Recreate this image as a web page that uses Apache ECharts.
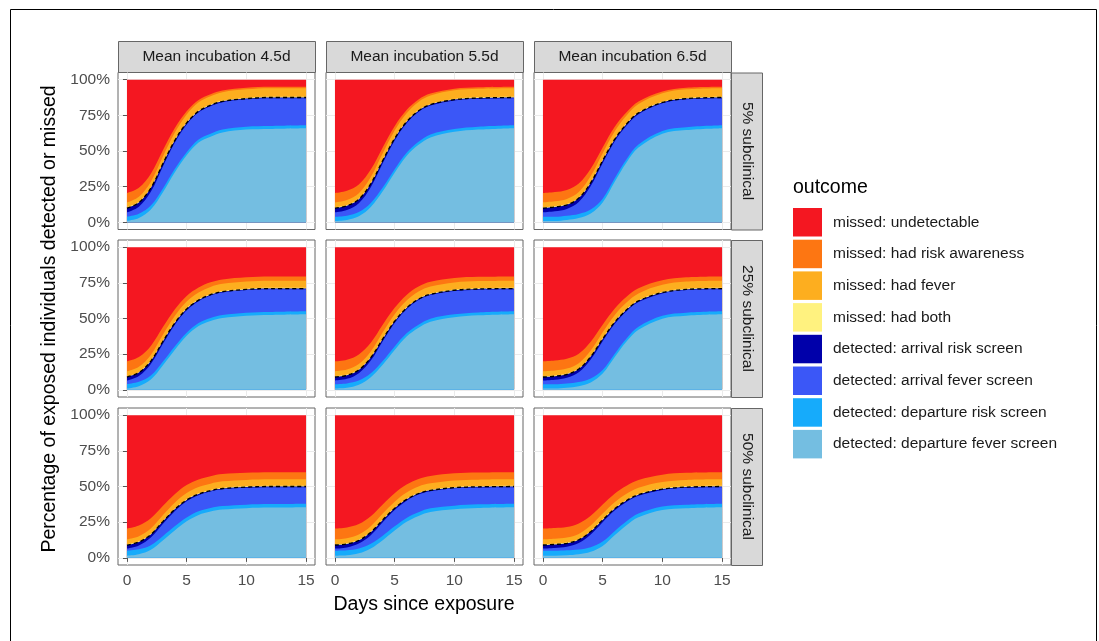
<!DOCTYPE html>
<html>
<head>
<meta charset="utf-8">
<script src="https://cdn.jsdelivr.net/npm/echarts@6/dist/echarts.min.js"></script>
<style>
  html, body { margin: 0; padding: 0; background: #fff; }
  #chart { width: 1099px; height: 641px; }
</style>
</head>
<body>
<div id="chart"></div>
<script>
// facet labels
const incubations = ['Mean incubation 4.5d', 'Mean incubation 5.5d', 'Mean incubation 6.5d'];
const subclinical = ['5% subclinical', '25% subclinical', '50% subclinical'];
const xTicks = [0, 5, 10, 15];
const yTicks = [0, 25, 50, 75, 100];
const days = [0, 1, 2, 3, 4, 5, 6, 7, 8, 10, 12, 15];

const outcomes = [
  'missed: undetectable', 'missed: had risk awareness', 'missed: had fever', 'missed: had both',
  'detected: arrival risk screen', 'detected: arrival fever screen',
  'detected: departure risk screen', 'detected: departure fever screen'
];

// one row per panel: 5% (4.5, 5.5, 6.5), 25% (...), 50% (...)
const departureFever = [
  [1, 3, 9, 21, 35, 47, 56, 60, 63, 65, 65.5, 66],
  [1, 1.7, 4.3, 10.8, 21.8, 34.8, 46.5, 54.3, 59.5, 63.4, 65, 66],
  [1, 1, 1.7, 3, 6.2, 14, 28.3, 42, 52.4, 62.1, 64.7, 66],
  [1, 2.6, 7.2, 17.1, 28, 37.9, 44.7, 48.3, 50.4, 52, 52.5, 53],
  [1, 1.5, 3.6, 8.8, 17.6, 28, 37.4, 43.6, 47.8, 50.9, 52.2, 53],
  [1, 1, 1.5, 2.6, 5.2, 11.4, 22.8, 33.8, 42.1, 49.9, 52, 53],
  [1.5, 2.5, 5.6, 12.1, 19.2, 25.6, 30.1, 32.4, 33.8, 34.8, 35.2, 35.5],
  [1.5, 1.8, 3.2, 6.6, 12.4, 19.2, 25.3, 29.4, 32.1, 34.1, 35, 35.5],
  [1.5, 1.5, 1.8, 2.5, 4.2, 8.3, 15.8, 22.9, 28.4, 33.5, 34.8, 35.5]
];
const departureRisk = [
  [3, 3, 2.8, 2.6, 2.4, 2.2, 2.1, 2.1, 2, 2, 2, 2],
  [3, 3, 2.9, 2.8, 2.6, 2.4, 2.2, 2.1, 2.1, 2, 2, 2],
  [3, 3, 3, 2.9, 2.8, 2.6, 2.4, 2.2, 2.1, 2, 2, 2],
  [3, 3, 2.8, 2.6, 2.4, 2.2, 2.1, 2.1, 2, 2, 2, 2],
  [3, 3, 2.9, 2.8, 2.6, 2.4, 2.2, 2.1, 2.1, 2, 2, 2],
  [3, 3, 3, 2.9, 2.8, 2.6, 2.4, 2.2, 2.1, 2, 2, 2],
  [3.5, 3.5, 3.3, 3.1, 2.9, 2.7, 2.6, 2.6, 2.5, 2.5, 2.5, 2.5],
  [3.5, 3.5, 3.4, 3.3, 3.1, 2.9, 2.7, 2.6, 2.6, 2.5, 2.5, 2.5],
  [3.5, 3.5, 3.5, 3.4, 3.3, 3.1, 2.9, 2.7, 2.6, 2.5, 2.5, 2.5]
];
const arrivalFever = [
  [3, 5, 9.6, 15.4, 18.4, 19.4, 19, 19.3, 19.2, 19.2, 19.5, 19],
  [3, 3.9, 6.2, 11, 17, 20.2, 20.8, 21, 20.2, 20, 19.6, 19],
  [3, 3.8, 4.7, 8.3, 16.4, 24.8, 25.9, 23.6, 21.3, 19.3, 19.5, 19],
  [2.5, 4.1, 8.1, 12.4, 15.1, 15.6, 15.3, 15.7, 15.8, 15.9, 16, 15.5],
  [2.5, 3.2, 5.2, 8.9, 13.9, 16.5, 16.9, 17.2, 16.5, 16.4, 16, 15.5],
  [2.5, 3.1, 4, 6.8, 13.3, 20.1, 20.9, 19.1, 17.3, 15.7, 15.9, 15.5],
  [1.5, 2.7, 5.4, 8.5, 10.6, 11.3, 11.2, 11.5, 11.7, 11.8, 11.8, 11.5],
  [1.5, 2, 3.4, 6, 9.5, 11.5, 12.1, 12.4, 12, 12.1, 11.8, 11.5],
  [1.5, 1.9, 2.5, 4.5, 8.9, 13.6, 14.4, 13.6, 12.5, 11.6, 11.8, 11.5]
];
const arrivalRisk = [
  [3, 2.9, 2.6, 2, 1.5, 1.1, 0.8, 0.7, 0.6, 0.5, 0.5, 0.5],
  [3, 3, 2.8, 2.5, 1.9, 1.4, 1, 0.8, 0.7, 0.6, 0.5, 0.5],
  [3, 3, 2.9, 2.8, 2.4, 1.9, 1.5, 1.1, 0.9, 0.6, 0.5, 0.5],
  [2.5, 2.4, 2.1, 1.7, 1.3, 1, 0.8, 0.6, 0.6, 0.5, 0.5, 0.5],
  [2.5, 2.5, 2.3, 2.1, 1.6, 1.2, 0.9, 0.7, 0.6, 0.5, 0.5, 0.5],
  [2.5, 2.5, 2.4, 2.3, 2, 1.6, 1.3, 1, 0.8, 0.6, 0.5, 0.5],
  [2.5, 2.4, 2.1, 1.7, 1.3, 1, 0.8, 0.6, 0.6, 0.5, 0.5, 0.5],
  [2.5, 2.5, 2.3, 2.1, 1.6, 1.2, 0.9, 0.7, 0.6, 0.5, 0.5, 0.5],
  [2.5, 2.5, 2.4, 2.3, 2, 1.6, 1.3, 1, 0.8, 0.6, 0.5, 0.5]
];
const hadBoth = [
  [0.5, 0.5, 0.5, 0.5, 0.5, 0.5, 0.5, 0.5, 0.5, 0.5, 0.5, 0.5],
  [0.5, 0.5, 0.5, 0.5, 0.5, 0.5, 0.5, 0.5, 0.5, 0.5, 0.5, 0.5],
  [0.5, 0.5, 0.5, 0.5, 0.5, 0.5, 0.5, 0.5, 0.5, 0.5, 0.5, 0.5],
  [0.5, 0.5, 0.5, 0.5, 0.5, 0.5, 0.5, 0.5, 0.5, 0.5, 0.5, 0.5],
  [0.5, 0.5, 0.5, 0.5, 0.5, 0.5, 0.5, 0.5, 0.5, 0.5, 0.5, 0.5],
  [0.5, 0.5, 0.5, 0.5, 0.5, 0.5, 0.5, 0.5, 0.5, 0.5, 0.5, 0.5],
  [0.5, 0.5, 0.5, 0.5, 0.5, 0.5, 0.5, 0.5, 0.5, 0.5, 0.5, 0.5],
  [0.5, 0.5, 0.5, 0.5, 0.5, 0.5, 0.5, 0.5, 0.5, 0.5, 0.5, 0.5],
  [0.5, 0.5, 0.5, 0.5, 0.5, 0.5, 0.5, 0.5, 0.5, 0.5, 0.5, 0.5]
];
const hadFever = [
  [3.5, 3.6, 4, 4.5, 5, 5.4, 5.7, 5.8, 5.9, 6, 6, 6],
  [3.5, 3.6, 3.7, 4.1, 4.6, 5.1, 5.5, 5.7, 5.8, 6, 6, 6],
  [3.5, 3.5, 3.6, 3.7, 4.1, 4.6, 5.1, 5.4, 5.7, 5.9, 6, 6],
  [3.5, 3.6, 3.8, 4.1, 4.4, 4.7, 4.8, 4.9, 5, 5, 5, 5],
  [3.5, 3.5, 3.6, 3.8, 4.1, 4.4, 4.7, 4.8, 4.9, 5, 5, 5],
  [3.5, 3.5, 3.5, 3.6, 3.8, 4.1, 4.4, 4.6, 4.8, 4.9, 5, 5],
  [3.5, 3.6, 3.7, 3.9, 4.1, 4.3, 4.4, 4.4, 4.5, 4.5, 4.5, 4.5],
  [3.5, 3.5, 3.6, 3.7, 3.9, 4.1, 4.3, 4.4, 4.4, 4.5, 4.5, 4.5],
  [3.5, 3.5, 3.5, 3.6, 3.7, 3.9, 4.1, 4.3, 4.4, 4.5, 4.5, 4.5]
];
const riskAwareness = [
  [6.5, 6.2, 5.5, 4.3, 3.1, 2.3, 1.7, 1.4, 1.2, 1.1, 1, 1],
  [6.5, 6.4, 6.1, 5.3, 4.1, 3, 2.2, 1.7, 1.4, 1.1, 1, 1],
  [6.5, 6.4, 6.3, 6, 5.2, 4.1, 3.1, 2.3, 1.8, 1.3, 1.1, 1],
  [7, 6.8, 6.3, 5.4, 4.6, 3.9, 3.5, 3.3, 3.1, 3, 3, 3],
  [7, 6.9, 6.7, 6.1, 5.3, 4.5, 3.9, 3.5, 3.3, 3.1, 3, 3],
  [7, 7, 6.9, 6.6, 6.1, 5.3, 4.5, 4, 3.6, 3.2, 3, 3],
  [7.5, 7.4, 7.1, 6.5, 6, 5.6, 5.3, 5.2, 5.1, 5, 5, 5],
  [7.5, 7.5, 7.3, 7, 6.4, 5.9, 5.6, 5.3, 5.2, 5, 5, 5],
  [7.5, 7.5, 7.4, 7.3, 6.9, 6.4, 6, 5.6, 5.4, 5.1, 5, 5]
];
const undetectable = [
  [79.5, 75.8, 66, 49.7, 34.1, 22.1, 14.2, 10.2, 7.6, 5.7, 5, 5],
  [79.5, 77.9, 73.5, 63, 47.5, 32.6, 21.3, 13.9, 9.8, 6.4, 5.4, 5],
  [79.5, 78.8, 77.3, 72.8, 62.4, 47.5, 33.2, 22.9, 15.3, 8.3, 5.7, 5],
  [80, 77, 69.2, 56.2, 43.7, 34.2, 28.3, 24.6, 22.6, 21.1, 20.5, 20.5],
  [80, 78.9, 75.2, 67, 54.4, 42.5, 33.5, 27.6, 24.3, 21.6, 20.8, 20.5],
  [80, 79.4, 78.2, 74.7, 66.3, 54.4, 43.2, 34.8, 28.8, 23.2, 21.1, 20.5],
  [79.5, 77.4, 72.3, 63.7, 55.4, 49, 45.1, 42.8, 41.3, 40.4, 40, 40],
  [79.5, 78.7, 76.3, 70.8, 62.6, 54.7, 48.6, 44.7, 42.6, 40.8, 40.2, 40],
  [79.5, 79.1, 78.4, 75.9, 70.5, 62.6, 55, 49.4, 45.4, 41.7, 40.4, 40]
];

const colors = {
  'missed: undetectable': '#F41721',
  'missed: had risk awareness': '#FD7612',
  'missed: had fever': '#FDAE1F',
  'missed: had both': '#FFF27F',
  'detected: arrival risk screen': '#0000AA',
  'detected: arrival fever screen': '#3B57F7',
  'detected: departure risk screen': '#16ABFB',
  'detected: departure fever screen': '#74BEE1'
};

// stacking order, bottom first
const layers = [
  ['detected: departure fever screen', departureFever],
  ['detected: departure risk screen', departureRisk],
  ['detected: arrival fever screen', arrivalFever],
  ['detected: arrival risk screen', arrivalRisk],
  ['missed: had both', hadBoth],
  ['missed: had fever', hadFever],
  ['missed: had risk awareness', riskAwareness],
  ['missed: undetectable', undetectable]
];
const nDetected = 4;

const font = 'Liberation Sans, Arial, sans-serif';
const colLeft = [118, 326, 534];
const rowTop = [72.5, 240, 408];
const W = 197, H = 157;

const chart = echarts.init(document.getElementById('chart'));
let grids = [], xAxes = [], yAxes = [], series = [], graphics = [];

for (let r = 0; r < 3; r++) {
  for (let c = 0; c < 3; c++) {
    const p = r * 3 + c;
    grids.push({
      left: colLeft[c], top: rowTop[r], width: W, height: H,
      show: true, borderColor: '#666', borderWidth: 1, backgroundColor: '#fff'
    });
    xAxes.push({
      type: 'value', gridIndex: p, min: -0.75, max: 15.75,
      axisLine: { show: false },
      axisTick: { show: r === 2, length: 4, lineStyle: { color: '#555' }, customValues: xTicks },
      axisLabel: { show: r === 2, customValues: xTicks, color: '#4d4d4d', fontSize: 15.5, fontFamily: font, margin: 8 },
      splitLine: { show: true, lineStyle: { color: '#ebebeb', width: 1 } }
    });
    yAxes.push({
      type: 'value', gridIndex: p, min: -5, max: 105,
      axisLine: { show: false },
      axisTick: { show: c === 0, length: 4, lineStyle: { color: '#555' }, customValues: yTicks },
      axisLabel: { show: c === 0, customValues: yTicks, formatter: '{value}%', color: '#4d4d4d', fontSize: 15.5, fontFamily: font, margin: 8 },
      splitLine: { show: true, lineStyle: { color: '#ebebeb', width: 1 } }
    });

    // running totals (top edge of each band)
    let running = days.map(() => 0);
    const tops = layers.map(([name, arr]) => {
      running = running.map((v, i) => v + arr[p][i]);
      return running.slice();
    });

    // draw top band first; each lower band is painted over it down to 0
    for (let k = layers.length - 1; k >= 0; k--) {
      const name = layers[k][0];
      series.push({
        type: 'line', name: name, xAxisIndex: p, yAxisIndex: p,
        data: days.map((d, i) => [d, Math.min(tops[k][i], 100)]),
        showSymbol: false, smooth: 0.35, silent: true,
        color: colors[name],
        lineStyle: { width: 0 },
        areaStyle: { color: colors[name], opacity: 1, origin: 0 }
      });
    }
    // dashed line on the detected / missed boundary
    series.push({
      type: 'line', name: 'boundary', xAxisIndex: p, yAxisIndex: p, z: 5,
      data: days.map((d, i) => [d, tops[nDetected - 1][i]]),
      showSymbol: false, smooth: 0.35, silent: true,
      lineStyle: { color: '#000', width: 1.3, type: [4, 3] }
    });
  }
}

// strips on top
incubations.forEach((t, c) => {
  graphics.push({
    type: 'rect', shape: { x: colLeft[c] + 0.5, y: 41.5, width: W, height: 31 },
    style: { fill: '#d9d9d9', stroke: '#666', lineWidth: 1 }
  });
  graphics.push({
    type: 'text', x: colLeft[c] + W / 2, y: 57,
    style: { text: t, fill: '#1a1a1a', font: '15.5px ' + font, align: 'center', verticalAlign: 'middle' }
  });
});
// strips on the right
subclinical.forEach((t, r) => {
  graphics.push({
    type: 'rect', shape: { x: 731.5, y: rowTop[r] + 0.5, width: 31, height: H },
    style: { fill: '#d9d9d9', stroke: '#666', lineWidth: 1 }
  });
  graphics.push({
    type: 'text', x: 747, y: rowTop[r] + H / 2, rotation: -Math.PI / 2,
    style: { text: t, fill: '#1a1a1a', font: '15.5px ' + font, align: 'center', verticalAlign: 'middle' }
  });
});
// axis titles
graphics.push({
  type: 'text', x: 424, y: 605,
  style: { text: 'Days since exposure', fill: '#000', font: '19.5px ' + font, align: 'center', verticalAlign: 'middle' }
});
graphics.push({
  type: 'text', x: 50, y: 319, rotation: Math.PI / 2,
  style: { text: 'Percentage of exposed individuals detected or missed', fill: '#000', font: '19.5px ' + font, align: 'center', verticalAlign: 'middle' }
});
// legend title
graphics.push({
  type: 'text', x: 793, y: 188,
  style: { text: 'outcome', fill: '#000', font: '19.5px ' + font, align: 'left', verticalAlign: 'middle' }
});
// outer frame
graphics.push({
  type: 'rect', shape: { x: 10.5, y: 9.5, width: 1086, height: 660 },
  style: { fill: 'none', stroke: '#000', lineWidth: 1 }, z: 100
});

chart.setOption({
  animation: false,
  backgroundColor: '#fff',
  grid: grids,
  xAxis: xAxes,
  yAxis: yAxes,
  legend: {
    data: outcomes,
    orient: 'vertical',
    left: 793, top: 208,
    padding: 0,
    itemWidth: 29, itemHeight: 28.5, itemGap: 3.2,
    icon: 'rect',
    selectedMode: false,
    textStyle: { color: '#1a1a1a', fontSize: 15.5, fontFamily: font, padding: [0, 0, 0, 6] }
  },
  series: series,
  graphic: graphics
});
</script>
</body>
</html>
